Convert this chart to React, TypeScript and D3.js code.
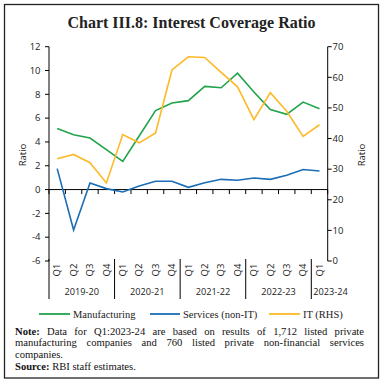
import React, { useLayoutEffect, useRef } from "react";
import * as d3 from "d3";

const quarters = ["Q1","Q2","Q3","Q4","Q1","Q2","Q3","Q4","Q1","Q2","Q3","Q4","Q1","Q2","Q3","Q4","Q1"];
const years = ["2019-20","2020-21","2021-22","2022-23","2023-24"];
const yearCounts = [4,4,4,4,1];
const manufacturing = [5.12,4.6,4.33,3.35,2.37,4.5,6.63,7.27,7.47,8.67,8.55,9.78,8.2,6.73,6.32,7.35,6.79];
const services = [1.76,-3.4,0.55,0.08,-0.2,0.3,0.7,0.7,0.19,0.58,0.86,0.78,0.97,0.86,1.2,1.68,1.56];
const itRHS = [33.4,34.8,32.1,25.5,41.3,38.6,41.8,62.4,66.7,66.5,61.6,56.9,46.2,55.0,48.9,40.7,44.5];
const leftTicks = [12,10,8,6,4,2,0,-2,-4,-6];
const rightTicks = [0,10,20,30,40,50,60,70];

const GREEN = "#21a34a";
const BLUE = "#1b6db5";
const YELLOW = "#fdb927";
const SANS = "'Open Sans', sans-serif";
const SERIF = "'Liberation Serif', 'DejaVu Serif', serif";

function Justified({ x, y, width, children, justify }: any) {
  const ref = useRef<SVGTextElement>(null);
  useLayoutEffect(() => {
    const el = ref.current;
    if (!el || !justify) return;
    el.setAttribute("word-spacing", "0");
    const natural = el.getComputedTextLength();
    const txt = el.textContent || "";
    const spaces = (txt.match(/ /g) || []).length;
    if (spaces > 0) el.setAttribute("word-spacing", String((width - natural) / spaces));
  }, [width, justify]);
  return (
    <text ref={ref} x={x} y={y} fontFamily={SERIF} fontSize={10.6} fill="#111">
      {children}
    </text>
  );
}

export default function App() {
  const x0 = 49, x1 = 327.7;
  const yTop = 46.7, yBot = 261;
  const x = d3.scaleBand<number>().domain(d3.range(quarters.length)).range([x0, x1]).padding(0);
  const yL = d3.scaleLinear().domain([-6, 12]).range([yBot, yTop]);
  const yR = d3.scaleLinear().domain([0, 70]).range([yBot, yTop]);
  const cx = (i: number) => (x(i) as number) + x.bandwidth() / 2;
  const lineL = d3.line<number>().x((_, i) => cx(i)).y((d) => yL(d));
  const lineR = d3.line<number>().x((_, i) => cx(i)).y((d) => yR(d));
  const y0 = yL(0);
  const boundaries = d3.range(quarters.length + 1).map((i) => x0 + i * x.bandwidth());
  const starts: number[] = [];
  let acc = 0;
  yearCounts.forEach((c) => { starts.push(acc); acc += c; });

  return (
    <svg width={383} height={383} style={{ position: "absolute", left: 0, top: 0, background: "#fff" }}>
      <rect x={4.5} y={4.5} width={374} height={373.5} fill="#fff" stroke="#222" strokeWidth={1.3} />
      <text x={191.5} y={28} textAnchor="middle" fontFamily={SERIF} fontWeight="bold" fontSize={16} fill="#222">
        Chart III.8: Interest Coverage Ratio
      </text>

      {/* left axis */}
      <line x1={x0} x2={x0} y1={yTop} y2={yBot} stroke="#000" strokeWidth={1} />
      {leftTicks.map((t) => (
        <g key={"l" + t}>
          <line x1={x0 - 4} x2={x0} y1={yL(t)} y2={yL(t)} stroke="#000" />
          <text x={40.5} y={yL(t) + 3.3} textAnchor="end" fontFamily={SANS} fontSize={9.5} fill="#222">{t}</text>
        </g>
      ))}
      <text transform={`translate(26,155) rotate(-90)`} textAnchor="middle" fontFamily={SANS} fontSize={9.5} fill="#222">Ratio</text>

      {/* right axis */}
      <line x1={x1} x2={x1} y1={yTop} y2={yR(0)} stroke="#000" strokeWidth={1} />
      {rightTicks.map((t) => (
        <g key={"r" + t}>
          <line x1={x1} x2={x1 + 4} y1={yR(t)} y2={yR(t)} stroke="#000" />
          <text x={332.5} y={yR(t) + 3.3} textAnchor="start" fontFamily={SANS} fontSize={9.5} fill="#222">{t}</text>
        </g>
      ))}
      <text transform={`translate(365,155) rotate(-90)`} textAnchor="middle" fontFamily={SANS} fontSize={9.5} fill="#222">Ratio</text>

      {/* category axis at zero */}
      <line x1={x0} x2={x1} y1={y0} y2={y0} stroke="#000" strokeWidth={1} />
      {boundaries.map((b, i) => (
        <line key={"b" + i} x1={b} x2={b} y1={y0} y2={y0 + 4.5} stroke="#000" />
      ))}
      {quarters.map((q, i) => (
        <text key={"q" + i} transform={`translate(${cx(i) + 3.3},270) rotate(-90)`} textAnchor="middle" fontFamily={SANS} fontSize={9.5} fill="#222">{q}</text>
      ))}
      {starts.map((s, gi) => (
        <line key={"s" + gi} x1={x0 + s * x.bandwidth()} x2={x0 + s * x.bandwidth()} y1={259} y2={299} stroke="#000" />
      ))}
      {years.map((yr, gi) => {
        const s = starts[gi];
        const c = yearCounts[gi];
        const last = c === 1;
        const px = last ? x0 + s * x.bandwidth() + 2 : x0 + (s + c / 2) * x.bandwidth();
        return (
          <text key={yr} x={px} y={295} textAnchor={last ? "start" : "middle"} fontFamily={SANS} fontSize={9.2} fill="#222">{yr}</text>
        );
      })}

      {/* series */}
      <path d={lineL(manufacturing) || ""} fill="none" stroke={GREEN} strokeWidth={1.6} />
      <path d={lineL(services) || ""} fill="none" stroke={BLUE} strokeWidth={1.6} />
      <path d={lineR(itRHS) || ""} fill="none" stroke={YELLOW} strokeWidth={1.6} />

      {/* legend */}
      <line x1={39} x2={70} y1={314} y2={314} stroke={GREEN} strokeWidth={1.8} />
      <text x={73} y={317.5} fontFamily={SERIF} fontSize={10.5} fill="#222">Manufacturing</text>
      <line x1={150} x2={180} y1={314} y2={314} stroke={BLUE} strokeWidth={1.8} />
      <text x={183} y={317.5} fontFamily={SERIF} fontSize={10.5} fill="#222">Services (non-IT)</text>
      <line x1={269} x2={300} y1={314} y2={314} stroke={YELLOW} strokeWidth={1.8} />
      <text x={303} y={317.5} fontFamily={SERIF} fontSize={10.5} fill="#222">IT (RHS)</text>

      {/* notes */}
      <Justified x={15} y={334.5} width={349} justify>
        <tspan fontWeight="bold">Note:</tspan> Data for Q1:2023-24 are based on results of 1,712 listed private
      </Justified>
      <Justified x={15} y={346} width={349} justify>
        manufacturing companies and 760 listed private non-financial services
      </Justified>
      <Justified x={15} y={357.7} width={349} justify={false}>
        companies.
      </Justified>
      <Justified x={15} y={369.5} width={349} justify={false}>
        <tspan fontWeight="bold">Source:</tspan> RBI staff estimates.
      </Justified>
    </svg>
  );
}
